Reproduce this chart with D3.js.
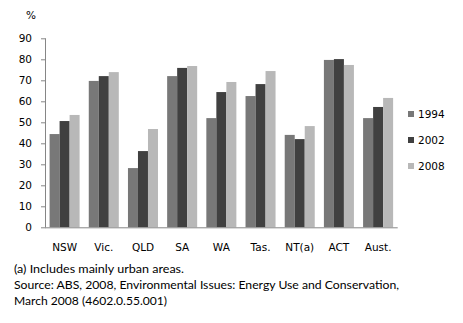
<!DOCTYPE html>
<html>
<head>
<meta charset="utf-8">
<script src="https://cdn.jsdelivr.net/npm/d3@7"></script>
<style>
html,body{margin:0;padding:0;background:#fff;}
svg{display:block;}
</style>
</head>
<body>
<svg id="chart" width="463" height="323"></svg>
<script>
const categories = ["NSW","Vic.","QLD","SA","WA","Tas.","NT(a)","ACT","Aust."];
const seriesNames = ["1994","2002","2008"];
const values1994 = [44.4, 69.7, 28.2, 72.0, 52.0, 62.5, 44.0, 79.7, 52.0];
const values2002 = [50.6, 72.0, 36.3, 75.9, 64.4, 68.2, 42.0, 80.1, 57.3];
const values2008 = [53.5, 73.9, 46.8, 76.8, 69.2, 74.4, 48.2, 77.3, 61.6];
const yTicks = [0,10,20,30,40,50,60,70,80,90];
const colors = ["#787878","#404040","#b8b8b8"];
const footnotes = [
  "(a) Includes mainly  urban areas.",
  "Source: ABS, 2008, Environmental  Issues: Energy Use and Conservation,",
  "March 2008 (4602.0.55.001)"
];

const seriesValues = [values1994, values2002, values2008];
const svg = d3.select("#chart");
const axisColor = "#868686";
const font = "DejaVu Sans, Verdana, sans-serif";

const x = d3.scaleBand().domain(categories).range([45, 397.7]).paddingInner(0.234).paddingOuter(0.117);
const xs = d3.scaleBand().domain(seriesNames).range([0, x.bandwidth()]);
const y = d3.scaleLinear().domain([0, 90]).range([227.3, 38.3]);

// bars
const g = svg.append("g");
categories.forEach((c, i) => {
  seriesNames.forEach((s, j) => {
    const v = seriesValues[j][i];
    g.append("rect")
      .attr("x", x(c) + xs(s))
      .attr("y", y(v))
      .attr("width", xs.bandwidth())
      .attr("height", y(0) - y(v))
      .attr("fill", colors[j]);
  });
});

// y axis
const yAxis = d3.axisLeft(y).tickValues(yTicks).tickSize(4).tickPadding(9);
const yg = svg.append("g").attr("transform", "translate(45,0)").call(yAxis);
yg.select(".domain").attr("stroke", axisColor).attr("d", `M0.5,${y(90)}V${y(0)}`);
yg.selectAll(".tick line").attr("stroke", axisColor).attr("x1", 0.5).attr("x2", -4);
yg.selectAll(".tick text").attr("font-family", font).attr("font-size", "10.5px").attr("fill", "#000");

// x axis
const xAxis = d3.axisBottom(x).tickSize(0).tickPadding(16);
const xg = svg.append("g").attr("transform", `translate(0,${y(0)})`).call(xAxis);
xg.select(".domain").attr("stroke", axisColor).attr("d", "M45,0.5H397.7");
xg.selectAll(".tick text").attr("font-family", font).attr("font-size", "10.5px").attr("fill", "#000");

// unit label
svg.append("text").attr("x", 31).attr("y", 19).attr("text-anchor", "middle")
  .attr("font-family", font).attr("font-size", "10.5px").text("%");

// legend
const legendY = [114, 140, 166];
seriesNames.forEach((s, j) => {
  svg.append("rect").attr("x", 408).attr("y", legendY[j] - 3).attr("width", 6).attr("height", 6).attr("fill", colors[j]);
  svg.append("text").attr("x", 418).attr("y", legendY[j] + 4)
    .attr("font-family", font).attr("font-size", "10.5px").attr("fill", "#000").text(s);
});

// footnotes
const fnY = [272.5, 288.5, 304.5];
const fnW = [170, 385, 153];
footnotes.forEach((t, i) => {
  svg.append("text").attr("x", 14).attr("y", fnY[i])
    .attr("font-family", "Lato, 'Open Sans', sans-serif").attr("font-size", "11px")
    .attr("textLength", fnW[i]).attr("lengthAdjust", "spacingAndGlyphs")
    .attr("fill", "#000").text(t);
});
</script>
</body>
</html>
